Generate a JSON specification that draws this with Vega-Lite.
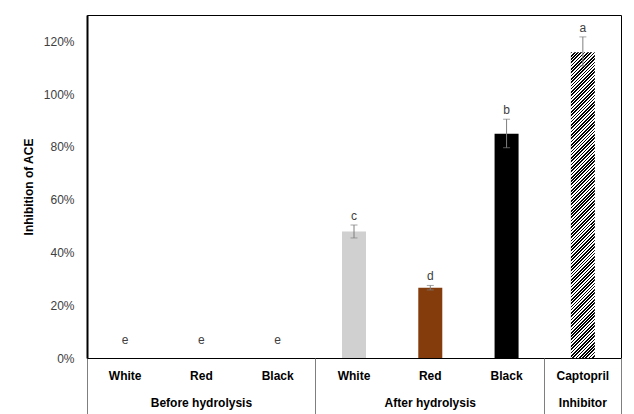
{
  "$schema": "https://vega.github.io/schema/vega-lite/v6.json",
  "width": 534,
  "height": 343,
  "autosize": {"type": "none"},
  "padding": {"left": 87, "top": 15, "right": 13, "bottom": 56},
  "config": {"font": "Liberation Sans", "view": {"stroke": "#000", "strokeWidth": 1}, "axis": {"grid": false}},
  "data": {"values": [
    {"id": "B-White", "value": 0, "lo": 0, "hi": 0, "letter": "e"},
    {"id": "B-Red", "value": 0, "lo": 0, "hi": 0, "letter": "e"},
    {"id": "B-Black", "value": 0, "lo": 0, "hi": 0, "letter": "e"},
    {"id": "A-White", "value": 0.479, "lo": 0.455, "hi": 0.504, "letter": "c"},
    {"id": "A-Red", "value": 0.266, "lo": 0.258, "hi": 0.275, "letter": "d"},
    {"id": "A-Black", "value": 0.85, "lo": 0.797, "hi": 0.905, "letter": "b"},
    {"id": "Captopril", "value": 1.159, "lo": 1.107, "hi": 1.217, "letter": "a"}
  ]},
  "resolve": {"axis": {"x": "independent", "y": "independent"}},
  "layer": [
    {
      "transform": [{"filter": "datum.id != 'Captopril'"}],
      "mark": {"type": "bar", "size": 24},
      "encoding": {
        "x": {"field": "id", "type": "nominal", "sort": null,
          "scale": {"domain": ["B-White", "B-Red", "B-Black", "A-White", "A-Red", "A-Black", "Captopril"], "paddingInner": 0, "paddingOuter": 0},
          "axis": {"orient": "bottom", "title": null, "ticks": false, "tickSize": 0, "domainColor": "#000", "domainWidth": 1, "labelPadding": 12, "labelFontSize": 12, "labelFontWeight": "bold", "labelColor": "#000", "labelAngle": 0,
            "labelExpr": "datum.value == 'Captopril' ? 'Captopril' : substring(datum.value, 2)"}},
        "y": {"field": "value", "type": "quantitative",
          "scale": {"domain": [0, 1.3], "nice": false},
          "axis": {"orient": "left", "format": ".0%", "values": [0, 0.2, 0.4, 0.6, 0.8, 1, 1.2], "grid": false, "ticks": false, "tickSize": 0, "domainColor": "#000", "domainWidth": 2, "labelPadding": 13, "labelFontSize": 12, "labelColor": "#404040", "title": "Inhibition of ACE", "titleFontSize": 12, "titleFontWeight": "bold", "titleColor": "#000", "titlePadding": 8}},
        "color": {"field": "id", "type": "nominal", "legend": null,
          "scale": {"domain": ["B-White", "B-Red", "B-Black", "A-White", "A-Red", "A-Black"], "range": ["#d0d0d0", "#843c0c", "#000000", "#d0d0d0", "#843c0c", "#000000"]}}
      }
    },
    {
      "transform": [{"filter": "datum.id == 'Captopril'"}],
      "mark": {"type": "bar", "size": 24, "fill": {"gradient": "linear", "x1": 0, "y1": 0, "x2": 0.0841, "y2": 1.0719, "stops": [
{"offset":0,"color":"#000"},{"offset":0.005,"color":"#000"},{"offset":0.005,"color":"#fff"},{"offset":0.01,"color":"#fff"},
{"offset":0.01,"color":"#000"},{"offset":0.015,"color":"#000"},{"offset":0.015,"color":"#fff"},{"offset":0.02,"color":"#fff"},
{"offset":0.02,"color":"#000"},{"offset":0.025,"color":"#000"},{"offset":0.025,"color":"#fff"},{"offset":0.03,"color":"#fff"},
{"offset":0.03,"color":"#000"},{"offset":0.035,"color":"#000"},{"offset":0.035,"color":"#fff"},{"offset":0.04,"color":"#fff"},
{"offset":0.04,"color":"#000"},{"offset":0.045,"color":"#000"},{"offset":0.045,"color":"#fff"},{"offset":0.05,"color":"#fff"},
{"offset":0.05,"color":"#000"},{"offset":0.055,"color":"#000"},{"offset":0.055,"color":"#fff"},{"offset":0.06,"color":"#fff"},
{"offset":0.06,"color":"#000"},{"offset":0.065,"color":"#000"},{"offset":0.065,"color":"#fff"},{"offset":0.07,"color":"#fff"},
{"offset":0.07,"color":"#000"},{"offset":0.075,"color":"#000"},{"offset":0.075,"color":"#fff"},{"offset":0.08,"color":"#fff"},
{"offset":0.08,"color":"#000"},{"offset":0.085,"color":"#000"},{"offset":0.085,"color":"#fff"},{"offset":0.09,"color":"#fff"},
{"offset":0.09,"color":"#000"},{"offset":0.095,"color":"#000"},{"offset":0.095,"color":"#fff"},{"offset":0.1,"color":"#fff"},
{"offset":0.1,"color":"#000"},{"offset":0.105,"color":"#000"},{"offset":0.105,"color":"#fff"},{"offset":0.11,"color":"#fff"},
{"offset":0.11,"color":"#000"},{"offset":0.115,"color":"#000"},{"offset":0.115,"color":"#fff"},{"offset":0.12,"color":"#fff"},
{"offset":0.12,"color":"#000"},{"offset":0.125,"color":"#000"},{"offset":0.125,"color":"#fff"},{"offset":0.13,"color":"#fff"},
{"offset":0.13,"color":"#000"},{"offset":0.135,"color":"#000"},{"offset":0.135,"color":"#fff"},{"offset":0.14,"color":"#fff"},
{"offset":0.14,"color":"#000"},{"offset":0.145,"color":"#000"},{"offset":0.145,"color":"#fff"},{"offset":0.15,"color":"#fff"},
{"offset":0.15,"color":"#000"},{"offset":0.155,"color":"#000"},{"offset":0.155,"color":"#fff"},{"offset":0.16,"color":"#fff"},
{"offset":0.16,"color":"#000"},{"offset":0.165,"color":"#000"},{"offset":0.165,"color":"#fff"},{"offset":0.17,"color":"#fff"},
{"offset":0.17,"color":"#000"},{"offset":0.175,"color":"#000"},{"offset":0.175,"color":"#fff"},{"offset":0.18,"color":"#fff"},
{"offset":0.18,"color":"#000"},{"offset":0.185,"color":"#000"},{"offset":0.185,"color":"#fff"},{"offset":0.19,"color":"#fff"},
{"offset":0.19,"color":"#000"},{"offset":0.195,"color":"#000"},{"offset":0.195,"color":"#fff"},{"offset":0.2,"color":"#fff"},
{"offset":0.2,"color":"#000"},{"offset":0.205,"color":"#000"},{"offset":0.205,"color":"#fff"},{"offset":0.21,"color":"#fff"},
{"offset":0.21,"color":"#000"},{"offset":0.215,"color":"#000"},{"offset":0.215,"color":"#fff"},{"offset":0.22,"color":"#fff"},
{"offset":0.22,"color":"#000"},{"offset":0.225,"color":"#000"},{"offset":0.225,"color":"#fff"},{"offset":0.23,"color":"#fff"},
{"offset":0.23,"color":"#000"},{"offset":0.235,"color":"#000"},{"offset":0.235,"color":"#fff"},{"offset":0.24,"color":"#fff"},
{"offset":0.24,"color":"#000"},{"offset":0.245,"color":"#000"},{"offset":0.245,"color":"#fff"},{"offset":0.25,"color":"#fff"},
{"offset":0.25,"color":"#000"},{"offset":0.255,"color":"#000"},{"offset":0.255,"color":"#fff"},{"offset":0.26,"color":"#fff"},
{"offset":0.26,"color":"#000"},{"offset":0.265,"color":"#000"},{"offset":0.265,"color":"#fff"},{"offset":0.27,"color":"#fff"},
{"offset":0.27,"color":"#000"},{"offset":0.275,"color":"#000"},{"offset":0.275,"color":"#fff"},{"offset":0.28,"color":"#fff"},
{"offset":0.28,"color":"#000"},{"offset":0.285,"color":"#000"},{"offset":0.285,"color":"#fff"},{"offset":0.29,"color":"#fff"},
{"offset":0.29,"color":"#000"},{"offset":0.295,"color":"#000"},{"offset":0.295,"color":"#fff"},{"offset":0.3,"color":"#fff"},
{"offset":0.3,"color":"#000"},{"offset":0.305,"color":"#000"},{"offset":0.305,"color":"#fff"},{"offset":0.31,"color":"#fff"},
{"offset":0.31,"color":"#000"},{"offset":0.315,"color":"#000"},{"offset":0.315,"color":"#fff"},{"offset":0.32,"color":"#fff"},
{"offset":0.32,"color":"#000"},{"offset":0.325,"color":"#000"},{"offset":0.325,"color":"#fff"},{"offset":0.33,"color":"#fff"},
{"offset":0.33,"color":"#000"},{"offset":0.335,"color":"#000"},{"offset":0.335,"color":"#fff"},{"offset":0.34,"color":"#fff"},
{"offset":0.34,"color":"#000"},{"offset":0.345,"color":"#000"},{"offset":0.345,"color":"#fff"},{"offset":0.35,"color":"#fff"},
{"offset":0.35,"color":"#000"},{"offset":0.355,"color":"#000"},{"offset":0.355,"color":"#fff"},{"offset":0.36,"color":"#fff"},
{"offset":0.36,"color":"#000"},{"offset":0.365,"color":"#000"},{"offset":0.365,"color":"#fff"},{"offset":0.37,"color":"#fff"},
{"offset":0.37,"color":"#000"},{"offset":0.375,"color":"#000"},{"offset":0.375,"color":"#fff"},{"offset":0.38,"color":"#fff"},
{"offset":0.38,"color":"#000"},{"offset":0.385,"color":"#000"},{"offset":0.385,"color":"#fff"},{"offset":0.39,"color":"#fff"},
{"offset":0.39,"color":"#000"},{"offset":0.395,"color":"#000"},{"offset":0.395,"color":"#fff"},{"offset":0.4,"color":"#fff"},
{"offset":0.4,"color":"#000"},{"offset":0.405,"color":"#000"},{"offset":0.405,"color":"#fff"},{"offset":0.41,"color":"#fff"},
{"offset":0.41,"color":"#000"},{"offset":0.415,"color":"#000"},{"offset":0.415,"color":"#fff"},{"offset":0.42,"color":"#fff"},
{"offset":0.42,"color":"#000"},{"offset":0.425,"color":"#000"},{"offset":0.425,"color":"#fff"},{"offset":0.43,"color":"#fff"},
{"offset":0.43,"color":"#000"},{"offset":0.435,"color":"#000"},{"offset":0.435,"color":"#fff"},{"offset":0.44,"color":"#fff"},
{"offset":0.44,"color":"#000"},{"offset":0.445,"color":"#000"},{"offset":0.445,"color":"#fff"},{"offset":0.45,"color":"#fff"},
{"offset":0.45,"color":"#000"},{"offset":0.455,"color":"#000"},{"offset":0.455,"color":"#fff"},{"offset":0.46,"color":"#fff"},
{"offset":0.46,"color":"#000"},{"offset":0.465,"color":"#000"},{"offset":0.465,"color":"#fff"},{"offset":0.47,"color":"#fff"},
{"offset":0.47,"color":"#000"},{"offset":0.475,"color":"#000"},{"offset":0.475,"color":"#fff"},{"offset":0.48,"color":"#fff"},
{"offset":0.48,"color":"#000"},{"offset":0.485,"color":"#000"},{"offset":0.485,"color":"#fff"},{"offset":0.49,"color":"#fff"},
{"offset":0.49,"color":"#000"},{"offset":0.495,"color":"#000"},{"offset":0.495,"color":"#fff"},{"offset":0.5,"color":"#fff"},
{"offset":0.5,"color":"#000"},{"offset":0.505,"color":"#000"},{"offset":0.505,"color":"#fff"},{"offset":0.51,"color":"#fff"},
{"offset":0.51,"color":"#000"},{"offset":0.515,"color":"#000"},{"offset":0.515,"color":"#fff"},{"offset":0.52,"color":"#fff"},
{"offset":0.52,"color":"#000"},{"offset":0.525,"color":"#000"},{"offset":0.525,"color":"#fff"},{"offset":0.53,"color":"#fff"},
{"offset":0.53,"color":"#000"},{"offset":0.535,"color":"#000"},{"offset":0.535,"color":"#fff"},{"offset":0.54,"color":"#fff"},
{"offset":0.54,"color":"#000"},{"offset":0.545,"color":"#000"},{"offset":0.545,"color":"#fff"},{"offset":0.55,"color":"#fff"},
{"offset":0.55,"color":"#000"},{"offset":0.555,"color":"#000"},{"offset":0.555,"color":"#fff"},{"offset":0.56,"color":"#fff"},
{"offset":0.56,"color":"#000"},{"offset":0.565,"color":"#000"},{"offset":0.565,"color":"#fff"},{"offset":0.57,"color":"#fff"},
{"offset":0.57,"color":"#000"},{"offset":0.575,"color":"#000"},{"offset":0.575,"color":"#fff"},{"offset":0.58,"color":"#fff"},
{"offset":0.58,"color":"#000"},{"offset":0.585,"color":"#000"},{"offset":0.585,"color":"#fff"},{"offset":0.59,"color":"#fff"},
{"offset":0.59,"color":"#000"},{"offset":0.595,"color":"#000"},{"offset":0.595,"color":"#fff"},{"offset":0.6,"color":"#fff"},
{"offset":0.6,"color":"#000"},{"offset":0.605,"color":"#000"},{"offset":0.605,"color":"#fff"},{"offset":0.61,"color":"#fff"},
{"offset":0.61,"color":"#000"},{"offset":0.615,"color":"#000"},{"offset":0.615,"color":"#fff"},{"offset":0.62,"color":"#fff"},
{"offset":0.62,"color":"#000"},{"offset":0.625,"color":"#000"},{"offset":0.625,"color":"#fff"},{"offset":0.63,"color":"#fff"},
{"offset":0.63,"color":"#000"},{"offset":0.635,"color":"#000"},{"offset":0.635,"color":"#fff"},{"offset":0.64,"color":"#fff"},
{"offset":0.64,"color":"#000"},{"offset":0.645,"color":"#000"},{"offset":0.645,"color":"#fff"},{"offset":0.65,"color":"#fff"},
{"offset":0.65,"color":"#000"},{"offset":0.655,"color":"#000"},{"offset":0.655,"color":"#fff"},{"offset":0.66,"color":"#fff"},
{"offset":0.66,"color":"#000"},{"offset":0.665,"color":"#000"},{"offset":0.665,"color":"#fff"},{"offset":0.67,"color":"#fff"},
{"offset":0.67,"color":"#000"},{"offset":0.675,"color":"#000"},{"offset":0.675,"color":"#fff"},{"offset":0.68,"color":"#fff"},
{"offset":0.68,"color":"#000"},{"offset":0.685,"color":"#000"},{"offset":0.685,"color":"#fff"},{"offset":0.69,"color":"#fff"},
{"offset":0.69,"color":"#000"},{"offset":0.695,"color":"#000"},{"offset":0.695,"color":"#fff"},{"offset":0.7,"color":"#fff"},
{"offset":0.7,"color":"#000"},{"offset":0.705,"color":"#000"},{"offset":0.705,"color":"#fff"},{"offset":0.71,"color":"#fff"},
{"offset":0.71,"color":"#000"},{"offset":0.715,"color":"#000"},{"offset":0.715,"color":"#fff"},{"offset":0.72,"color":"#fff"},
{"offset":0.72,"color":"#000"},{"offset":0.725,"color":"#000"},{"offset":0.725,"color":"#fff"},{"offset":0.73,"color":"#fff"},
{"offset":0.73,"color":"#000"},{"offset":0.735,"color":"#000"},{"offset":0.735,"color":"#fff"},{"offset":0.74,"color":"#fff"},
{"offset":0.74,"color":"#000"},{"offset":0.745,"color":"#000"},{"offset":0.745,"color":"#fff"},{"offset":0.75,"color":"#fff"},
{"offset":0.75,"color":"#000"},{"offset":0.755,"color":"#000"},{"offset":0.755,"color":"#fff"},{"offset":0.76,"color":"#fff"},
{"offset":0.76,"color":"#000"},{"offset":0.765,"color":"#000"},{"offset":0.765,"color":"#fff"},{"offset":0.77,"color":"#fff"},
{"offset":0.77,"color":"#000"},{"offset":0.775,"color":"#000"},{"offset":0.775,"color":"#fff"},{"offset":0.78,"color":"#fff"},
{"offset":0.78,"color":"#000"},{"offset":0.785,"color":"#000"},{"offset":0.785,"color":"#fff"},{"offset":0.79,"color":"#fff"},
{"offset":0.79,"color":"#000"},{"offset":0.795,"color":"#000"},{"offset":0.795,"color":"#fff"},{"offset":0.8,"color":"#fff"},
{"offset":0.8,"color":"#000"},{"offset":0.805,"color":"#000"},{"offset":0.805,"color":"#fff"},{"offset":0.81,"color":"#fff"},
{"offset":0.81,"color":"#000"},{"offset":0.815,"color":"#000"},{"offset":0.815,"color":"#fff"},{"offset":0.82,"color":"#fff"},
{"offset":0.82,"color":"#000"},{"offset":0.825,"color":"#000"},{"offset":0.825,"color":"#fff"},{"offset":0.83,"color":"#fff"},
{"offset":0.83,"color":"#000"},{"offset":0.835,"color":"#000"},{"offset":0.835,"color":"#fff"},{"offset":0.84,"color":"#fff"},
{"offset":0.84,"color":"#000"},{"offset":0.845,"color":"#000"},{"offset":0.845,"color":"#fff"},{"offset":0.85,"color":"#fff"},
{"offset":0.85,"color":"#000"},{"offset":0.855,"color":"#000"},{"offset":0.855,"color":"#fff"},{"offset":0.86,"color":"#fff"},
{"offset":0.86,"color":"#000"},{"offset":0.865,"color":"#000"},{"offset":0.865,"color":"#fff"},{"offset":0.87,"color":"#fff"},
{"offset":0.87,"color":"#000"},{"offset":0.875,"color":"#000"},{"offset":0.875,"color":"#fff"},{"offset":0.88,"color":"#fff"},
{"offset":0.88,"color":"#000"},{"offset":0.885,"color":"#000"},{"offset":0.885,"color":"#fff"},{"offset":0.89,"color":"#fff"},
{"offset":0.89,"color":"#000"},{"offset":0.895,"color":"#000"},{"offset":0.895,"color":"#fff"},{"offset":0.9,"color":"#fff"},
{"offset":0.9,"color":"#000"},{"offset":0.905,"color":"#000"},{"offset":0.905,"color":"#fff"},{"offset":0.91,"color":"#fff"},
{"offset":0.91,"color":"#000"},{"offset":0.915,"color":"#000"},{"offset":0.915,"color":"#fff"},{"offset":0.92,"color":"#fff"},
{"offset":0.92,"color":"#000"},{"offset":0.925,"color":"#000"},{"offset":0.925,"color":"#fff"},{"offset":0.93,"color":"#fff"},
{"offset":0.93,"color":"#000"},{"offset":0.935,"color":"#000"},{"offset":0.935,"color":"#fff"},{"offset":0.94,"color":"#fff"},
{"offset":0.94,"color":"#000"},{"offset":0.945,"color":"#000"},{"offset":0.945,"color":"#fff"},{"offset":0.95,"color":"#fff"},
{"offset":0.95,"color":"#000"},{"offset":0.955,"color":"#000"},{"offset":0.955,"color":"#fff"},{"offset":0.96,"color":"#fff"},
{"offset":0.96,"color":"#000"},{"offset":0.965,"color":"#000"},{"offset":0.965,"color":"#fff"},{"offset":0.97,"color":"#fff"},
{"offset":0.97,"color":"#000"},{"offset":0.975,"color":"#000"},{"offset":0.975,"color":"#fff"},{"offset":0.98,"color":"#fff"},
{"offset":0.98,"color":"#000"},{"offset":0.985,"color":"#000"},{"offset":0.985,"color":"#fff"},{"offset":0.99,"color":"#fff"},
{"offset":0.99,"color":"#000"},{"offset":0.995,"color":"#000"},{"offset":0.995,"color":"#fff"},{"offset":1,"color":"#fff"}
      ]}},
      "encoding": {
        "x": {"field": "id", "type": "nominal", "sort": null,
          "axis": {"orient": "bottom", "title": null, "values": ["Captopril"], "bandPosition": 1, "tickSize": 56, "tickColor": "#7f7f7f", "tickWidth": 1, "labels": false, "domain": false, "grid": false}},
        "y": {"field": "value", "type": "quantitative", "axis": null}
      }
    },
    {
      "transform": [{"filter": "datum.value > 0"}],
      "mark": {"type": "rule", "color": "#7f7f7f", "strokeWidth": 1},
      "encoding": {
        "x": {"field": "id", "type": "nominal", "sort": null, "axis": null},
        "y": {"field": "lo", "type": "quantitative", "axis": null},
        "y2": {"field": "hi"}
      }
    },
    {
      "transform": [{"filter": "datum.value > 0"}],
      "mark": {"type": "tick", "color": "#7f7f7f", "size": 7, "thickness": 1, "orient": "horizontal"},
      "encoding": {
        "x": {"field": "id", "type": "nominal", "sort": null, "axis": null},
        "y": {"field": "lo", "type": "quantitative", "axis": null}
      }
    },
    {
      "transform": [{"filter": "datum.value > 0"}],
      "mark": {"type": "tick", "color": "#7f7f7f", "size": 7, "thickness": 1, "orient": "horizontal"},
      "encoding": {
        "x": {"field": "id", "type": "nominal", "sort": null, "axis": null},
        "y": {"field": "hi", "type": "quantitative", "axis": null}
      }
    },
    {
      "transform": [{"filter": "datum.value > 0"}],
      "mark": {"type": "text", "fontSize": 12, "color": "#404040", "baseline": "alphabetic", "dy": -5},
      "encoding": {
        "x": {"field": "id", "type": "nominal", "sort": null,
          "axis": {"orient": "bottom", "title": null, "values": ["B-White", "A-White", "Captopril"], "bandPosition": 0, "tickSize": 56, "tickColor": "#7f7f7f", "tickWidth": 1, "labels": false, "domain": false, "grid": false}},
        "y": {"field": "hi", "type": "quantitative", "axis": null},
        "text": {"field": "letter"}
      }
    },
    {
      "transform": [{"filter": "datum.value == 0"}],
      "mark": {"type": "text", "fontSize": 12, "color": "#404040", "baseline": "alphabetic", "dy": -14},
      "encoding": {
        "x": {"field": "id", "type": "nominal", "sort": null,
          "axis": {"orient": "bottom", "title": null, "values": ["B-Red", "A-Red", "Captopril"], "ticks": false, "tickSize": 0, "domain": false, "grid": false, "labelPadding": 39, "labelFontSize": 12, "labelFontWeight": "bold", "labelColor": "#000", "labelAngle": 0,
            "labelExpr": "datum.value == 'B-Red' ? 'Before hydrolysis' : datum.value == 'A-Red' ? 'After hydrolysis' : 'Inhibitor'"}},
        "y": {"field": "hi", "type": "quantitative", "axis": null},
        "text": {"field": "letter"}
      }
    }
  ]
}
